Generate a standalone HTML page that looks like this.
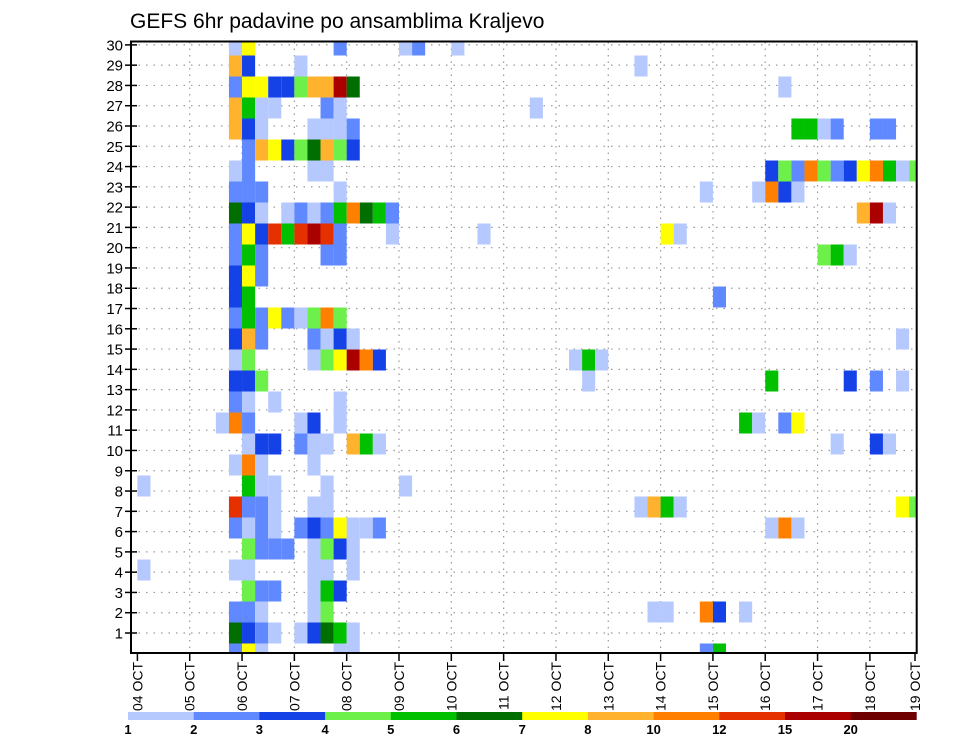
<!DOCTYPE html>
<html><head><meta charset="utf-8"><style>
html,body{margin:0;padding:0;background:#fff;}
svg{display:block;font-family:"Liberation Sans",sans-serif;}
</style></head><body>
<svg id="chart" width="960" height="742" viewBox="0 0 960 742" xmlns="http://www.w3.org/2000/svg">
<text x="130" y="28" font-size="21" fill="#000">GEFS 6hr padavine po ansamblima Kraljevo</text>
<defs><clipPath id="plotclip"><rect x="131" y="42" width="786" height="611"/></clipPath></defs>
<g id="grid"></g>
<g id="cells" clip-path="url(#plotclip)"></g>
<g id="axes"></g>
<g id="cbar"></g>
</svg>
<script>
const NS="http://www.w3.org/2000/svg";
// data (member index, 6-hourly step index from 04 OCT 00Z, precipitation mm)
const memberIds=[29,28,27,26,25,24,23,22,21,20,19,18,17,16,15,14,13,12,11,10,9,8,7,6,5,4,3,2,1,0];
const stepsByMember=[
[7,8,15,20,21,24],
[7,8,12,38],
[7,8,9,10,11,12,13,14,15,16,49],
[7,8,9,10,14,15,30],
[7,8,9,13,14,15,16,50,51,52,53,56,57],
[8,9,10,11,12,13,14,15,16],
[7,8,13,14,48,49,50,51,52,53,54,55,56,57,58,59],
[7,8,9,15,43,47,48,49,50],
[7,8,9,11,12,13,14,15,16,17,18,19,55,56,57],
[7,8,9,10,11,12,13,14,15,19,26,40,41],
[7,8,9,14,15,52,53,54],
[7,8,9],
[7,8,44],
[7,8,9,10,11,12,13,14,15],
[7,8,9,13,14,15,16,58],
[7,8,13,14,15,16,17,18,33,34,35],
[7,8,9,34,48,54,56,58],
[7,8,10,15],
[6,7,8,12,13,15,46,47,49,50],
[8,9,10,12,13,14,16,17,18,53,56,57],
[7,8,9,13],
[0,8,9,10,14,20],
[7,8,9,10,13,14,38,39,40,41,58,59],
[7,8,9,10,12,13,14,15,16,17,18,48,49,50],
[8,9,10,11,13,14,15,16],
[0,7,8,13,14,16],
[8,9,10,13,14,15],
[7,8,9,13,14,39,40,43,44,46],
[7,8,9,10,12,13,14,15,16],
[7,8,9,15,16,43,44]
];
const precipByMember=[
[1.5,7.5,2.5,1.5,2.5,1.5],
[9,3.5,1.5,1.5],
[2.5,7.5,7.5,3.5,3.5,4.5,9,9,17,6.5,1.5],
[9,5.5,1.5,1.5,2.5,1.5,1.5],
[9,3.5,1.5,1.5,1.5,1.5,2.5,5.5,5.5,1.5,2.5,2.5,2.5],
[2.5,9,7.5,3.5,4.5,6.5,9,4.5,3.5],
[1.5,2.5,1.5,1.5,3.5,4.5,2.5,11,4.5,2.5,3.5,7.5,11,5.5,1.5,4.5],
[2.5,2.5,2.5,1.5,1.5,1.5,11,3.5,1.5],
[6.5,3.5,1.5,1.5,2.5,1.5,2.5,5.5,11,6.5,5.5,2.5,9,17,1.5],
[2.5,7.5,3.5,13.5,5.5,13.5,17,13.5,2.5,1.5,1.5,7.5,1.5],
[2.5,5.5,2.5,2.5,2.5,4.5,5.5,1.5],
[3.5,7.5,2.5],
[3.5,5.5,2.5],
[2.5,5.5,2.5,7.5,2.5,1.5,4.5,11,4.5],
[3.5,9,2.5,2.5,1.5,3.5,1.5,1.5],
[1.5,4.5,1.5,4.5,7.5,17,11,3.5,1.5,5.5,1.5],
[3.5,3.5,4.5,1.5,5.5,3.5,2.5,1.5],
[2.5,1.5,1.5,1.5],
[1.5,11,2.5,1.5,3.5,1.5,5.5,1.5,2.5,7.5],
[1.5,3.5,3.5,2.5,1.5,1.5,9,5.5,1.5,1.5,3.5,1.5],
[1.5,11,1.5,1.5],
[1.5,5.5,1.5,1.5,1.5,1.5],
[13.5,2.5,2.5,1.5,1.5,1.5,1.5,9,5.5,1.5,7.5,4.5],
[2.5,1.5,2.5,1.5,2.5,3.5,2.5,7.5,1.5,1.5,2.5,1.5,11,1.5],
[4.5,2.5,2.5,2.5,1.5,4.5,3.5,1.5],
[1.5,1.5,1.5,1.5,1.5,1.5],
[4.5,2.5,2.5,1.5,5.5,3.5],
[2.5,2.5,1.5,1.5,4.5,1.5,1.5,11,3.5,1.5],
[6.5,3.5,2.5,1.5,1.5,3.5,6.5,5.5,1.5],
[2.5,7.5,1.5,1.5,1.5,2.5,5.5]
];
const levels=[1,2,3,4,5,6,7,8,10,12,15,20];
const levelLabels=["1","2","3","4","5","6","7","8","10","12","15","20"];
const colors=["#b5c9ff","#6089ff","#1442e6","#6ef04a","#00c000","#006e00","#ffff00","#ffb22e","#ff8000","#e53000","#aa0000","#6e0000"];
const dayLabels=["04 OCT","05 OCT","06 OCT","07 OCT","08 OCT","09 OCT","10 OCT","11 OCT","12 OCT","13 OCT","14 OCT","15 OCT","16 OCT","17 OCT","18 OCT","19 OCT"];
const yTickLabels=[1,2,3,4,5,6,7,8,9,10,11,12,13,14,15,16,17,18,19,20,21,22,23,24,25,26,27,28,29,30];

const X0=137.4, STEPW=13.08, DAYW=52.32;
function xStep(s){return X0+s*STEPW;}
function xDay(d){return X0+d*DAYW;}
function yMember(m){return 654-21*m;}
function yTick(r){return 633-(r-1)*20.28;}
function colorFor(v){let i=-1;for(let k=0;k<levels.length;k++){if(v>=levels[k])i=k;}return i<0?null:colors[i];}
function mk(tag,attrs,parent){const e=document.createElementNS(NS,tag);for(const k in attrs)e.setAttribute(k,attrs[k]);parent.appendChild(e);return e;}

const grid=document.getElementById('grid');
yTickLabels.forEach(r=>{
  const l=mk('line',{x1:131,x2:917,y1:yTick(r),y2:yTick(r),stroke:'#999','stroke-width':1.2,'stroke-dasharray':'1.5 6'},grid);
  
  
});
for(let d=1;d<15;d++){
  const l=mk('line',{x1:xDay(d),x2:xDay(d),y1:42,y2:653,stroke:'#999','stroke-width':1.2,'stroke-dasharray':'1.5 5'},grid);
  
  
}

const cells=document.getElementById('cells');
memberIds.forEach((m,i)=>{
  stepsByMember[i].forEach((s,j)=>{
    const c=colorFor(precipByMember[i][j]);
    if(!c)return;
    const r=mk('rect',{x:xStep(s),y:yMember(m)-10.5,width:STEPW,height:21,fill:c},cells);
    
    
  });
});

const axes=document.getElementById('axes');
const frame=mk('rect',{x:131,y:41.5,width:785.7,height:611.5,fill:'none',stroke:'#000','stroke-width':2},axes);


yTickLabels.forEach(r=>{
  const t=mk('line',{x1:125,x2:137,y1:yTick(r),y2:yTick(r),stroke:'#000','stroke-width':1.5},axes);
  
  
  const tx=mk('text',{x:123,y:yTick(r)+5.5,'font-size':15,'text-anchor':'end',fill:'#000'},axes);
  tx.textContent=String(r);
  
  
});
dayLabels.forEach((lab,d)=>{
  const x=Math.min(xDay(d),915);
  const t=mk('line',{x1:x,x2:x,y1:653,y2:661,stroke:'#000','stroke-width':1.5},axes);
  
  
  const tx=mk('text',{x:0,y:0,'font-size':14,'text-anchor':'end',fill:'#000',transform:'translate('+(x+5)+',662) rotate(-90)'},axes);
  tx.textContent=lab;
  
  
});

const cbar=document.getElementById('cbar');
const CB0=128, CBW=65.7;
colors.forEach((c,i)=>{
  const r=mk('rect',{x:CB0+i*CBW,y:712,width:CBW+0.3,height:8,fill:c},cbar);
  
  
});
levelLabels.forEach((lab,i)=>{
  const tx=mk('text',{x:CB0+i*CBW,y:734,'font-size':13,'font-weight':'bold','text-anchor':'middle',fill:'#000'},cbar);
  tx.textContent=lab;
  
  
});
</script>
</body></html>
